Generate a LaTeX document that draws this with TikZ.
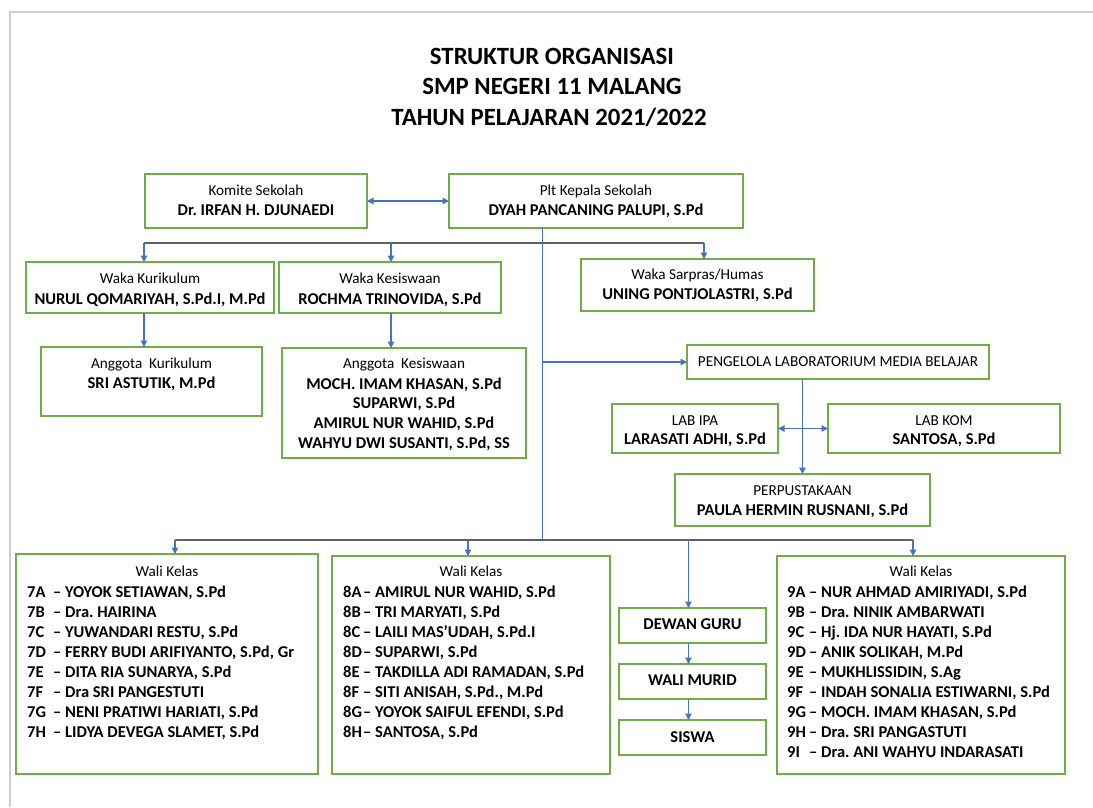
\documentclass[tikz,border=0pt]{standalone}
\usepackage{fontspec}
\setmainfont{Carlito}
\usetikzlibrary{arrows.meta}
\frenchspacing
\definecolor{gbox}{RGB}{112,173,71}
\definecolor{barr}{RGB}{68,114,196}
\definecolor{gbar}{RGB}{96,96,96}
\definecolor{pborder}{RGB}{205,205,205}
\tikzset{
 obox/.style={draw=gbox, line width=1.2pt, rectangle, inner sep=0pt, outer sep=0pt},
 lbl/.style={font=\fontsize{15.2}{17}\selectfont, inner sep=0pt, anchor=base},
 nm/.style={font=\fontsize{16.5}{19}\selectfont\bfseries, inner sep=0pt, anchor=base},
 lst/.style={font=\fontsize{16.5}{19}\selectfont\bfseries, inner sep=0pt, anchor=base west},
 ttl/.style={font=\fontsize{24.8}{30}\selectfont\bfseries, inner sep=0pt, anchor=base},
 arr/.style={draw=barr, line width=1.2pt, -{Triangle[length=6.5pt,width=6.5pt]}},
 darr/.style={draw=barr, line width=1.2pt, {Triangle[length=6.5pt,width=6.5pt]}-{Triangle[length=6.5pt,width=6.5pt]}},
 ln/.style={draw=barr, line width=1.2pt},
 gbarline/.style={draw=gbar, line width=2.4pt},
}
\newcommand\mkbox[5]{\node[obox, minimum width={(#4-#2)*1pt}, minimum height={(#5-#3)*1pt}] (#1) at ({(#2+#4)/2},{(#3+#5)/2}) {};}
\begin{document}
\begin{tikzpicture}[x=1pt,y=-1pt]
\useasboundingbox (0,0) rectangle (1093,807);
\draw[pborder, line width=1.5pt] (1093,12) -- (10,12) -- (10,807);

% title
\node[ttl] (t1) at (552,64) {STRUKTUR ORGANISASI};
\node[ttl] (t2) at (552,94) {SMP NEGERI 11 MALANG};
\node[ttl] (t3) at (549,125) {TAHUN PELAJARAN 2021/2022};

% boxes
\mkbox{kom}{145}{174}{367}{228}
\mkbox{plt}{449}{174}{743}{228}
\mkbox{wkur}{26}{262}{274}{313}
\mkbox{wkes}{279}{262}{501}{313}
\mkbox{wsar}{581}{259}{814}{311}
\mkbox{akur}{41}{347}{262}{416}
\mkbox{akes}{282}{348}{526}{458}
\mkbox{peng}{687}{345}{989}{379}
\mkbox{lipa}{612}{404}{778}{453}
\mkbox{lkom}{828}{404}{1060}{453}
\mkbox{perp}{675}{474}{930}{526}
\mkbox{wk7}{16}{554}{318}{774}
\mkbox{wk8}{332}{556}{610}{774}
\mkbox{dg}{619}{608}{766}{643}
\mkbox{wm}{619}{664}{766}{699}
\mkbox{sis}{619}{720}{766}{755}
\mkbox{wk9}{777}{556}{1065}{774}

% texts
\node[lbl] (komL) at (256,195) {Komite Sekolah};
\node[nm]  (komN) at (256,215) {Dr. IRFAN H. DJUNAEDI};
\node[lbl] (pltL) at (596,195) {Plt Kepala Sekolah};
\node[nm]  (pltN) at (596,215) {DYAH PANCANING PALUPI, S.Pd};
\node[lbl] (wkurL) at (150,283) {Waka Kurikulum};
\node[nm]  (wkurN) at (150,304) {NURUL QOMARIYAH, S.Pd.I, M.Pd};
\node[lbl] (wkesL) at (390,283) {Waka Kesiswaan};
\node[nm]  (wkesN) at (390,304) {ROCHMA TRINOVIDA, S.Pd};
\node[lbl] (wsarL) at (697.5,279) {Waka Sarpras/Humas};
\node[nm]  (wsarN) at (697.5,299) {UNING PONTJOLASTRI, S.Pd};
\node[lbl] (akurL) at (151.5,368) {Anggota~ Kurikulum};
\node[nm]  (akurN) at (151.5,388) {SRI ASTUTIK, M.Pd};
\node[lbl] (akesL) at (404,368) {Anggota~ Kesiswaan};
\node[nm]  (akes1) at (404,389) {MOCH. IMAM KHASAN, S.Pd};
\node[nm]  (akes2) at (404,408.5) {SUPARWI, S.Pd};
\node[nm]  (akes3) at (404,428) {AMIRUL NUR WAHID, S.Pd};
\node[nm]  (akes4) at (404,448) {WAHYU DWI SUSANTI, S.Pd, SS};
\node[lbl] (pengL) at (838,366) {PENGELOLA LABORATORIUM MEDIA BELAJAR};
\node[lbl] (lipaL) at (695,425) {LAB IPA};
\node[nm]  (lipaN) at (695,444) {LARASATI ADHI, S.Pd};
\node[lbl] (lkomL) at (944,425) {LAB KOM};
\node[nm]  (lkomN) at (944,444) {SANTOSA, S.Pd};
\node[lbl] (perpL) at (802.5,495) {PERPUSTAKAAN};
\node[nm]  (perpN) at (802.5,515) {PAULA HERMIN RUSNANI, S.Pd};
\node[nm]  (dgN) at (692.5,629) {DEWAN GURU};
\node[nm]  (wmN) at (692.5,685) {WALI MURID};
\node[nm]  (sisN) at (692.5,742) {SISWA};
\node[lbl] (wk7L) at (167,576) {Wali Kelas};
\node[lbl] (wk8L) at (471,576) {Wali Kelas};
\node[lbl] (wk9L) at (921,576) {Wali Kelas};

\foreach \a/\b [count=\i from 0] in {7A/{YOYOK SETIAWAN, S.Pd}, 7B/{Dra. HAIRINA}, 7C/{YUWANDARI RESTU, S.Pd}, 7D/{FERRY BUDI ARIFIYANTO, S.Pd, Gr}, 7E/{DITA RIA SUNARYA, S.Pd}, 7F/{Dra SRI PANGESTUTI}, 7G/{NENI PRATIWI HARIATI, S.Pd}, 7H/{LIDYA DEVEGA SLAMET, S.Pd}}
  \node[lst] (l7\i) at (27,597+20*\i) {\makebox[26pt][l]{\a}-- \b};
\foreach \a/\b [count=\i from 0] in {8A/{AMIRUL NUR WAHID, S.Pd}, 8B/{TRI MARYATI, S.Pd}, 8C/{LAILI MAS’UDAH, S.Pd.I}, 8D/{SUPARWI, S.Pd}, 8E/{TAKDILLA ADI RAMADAN, S.Pd}, 8F/{SITI ANISAH, S.Pd., M.Pd}, 8G/{YOYOK SAIFUL EFENDI, S.Pd}, 8H/{SANTOSA, S.Pd}}
  \node[lst] (l8\i) at (343,597+20*\i) {\makebox[20pt][l]{\a}-- \b};
\foreach \a/\b [count=\i from 0] in {9A/{NUR AHMAD AMIRIYADI, S.Pd}, 9B/{Dra. NINIK AMBARWATI}, 9C/{Hj. IDA NUR HAYATI, S.Pd}, 9D/{ANIK SOLIKAH, M.Pd}, 9E/{MUKHLISSIDIN, S.Ag}, 9F/{INDAH SONALIA ESTIWARNI, S.Pd}, 9G/{MOCH. IMAM KHASAN, S.Pd}, 9H/{Dra. SRI PANGASTUTI}, 9I/{Dra. ANI WAHYU INDARASATI}}
  \node[lst] (l9\i) at (787,597+20.1*\i) {\makebox[22pt][l]{\a}-- \b};

% connectors
\draw[darr] (kom.east) -- (plt.west);
\coordinate (b1) at (144,243);
\coordinate (b2) at (391,243);
\coordinate (b3) at (704,243);
\coordinate (v1) at (542.5,228);
\coordinate (v2) at (542.5,540);
\coordinate (d1) at (175,540);
\coordinate (d2) at (468,540);
\coordinate (d3) at (688.5,540);
\coordinate (d4) at (913,540);
\draw[ln] (v1) -- (v2);
\draw[gbarline] (b1) -- (b3);
\draw[gbarline] (d1) -- (d4);
\draw[arr] (b1) -- (b1 |- wkur.north);
\draw[arr] (b2) -- (b2 |- wkes.north);
\draw[arr] (b3) -- (b3 |- wsar.north);
\draw[arr] (b1 |- wkur.south) -- (b1 |- akur.north);
\draw[arr] (b2 |- wkes.south) -- (b2 |- akes.north);
\draw[arr] (v1 |- peng.west) -- (peng.west);
\draw[arr] (perp.north |- peng.south) -- (perp.north);
\draw[darr] (lipa.east) -- (lkom.west);
\draw[arr] (d1) -- (d1 |- wk7.north);
\draw[arr] (d2) -- (d2 |- wk8.north);
\draw[arr] (d3) -- (d3 |- dg.north);
\draw[arr] (d4) -- (d4 |- wk9.north);
\draw[arr] (d3 |- dg.south) -- (d3 |- wm.north);
\draw[arr] (d3 |- wm.south) -- (d3 |- sis.north);
\end{tikzpicture}
\end{document}
